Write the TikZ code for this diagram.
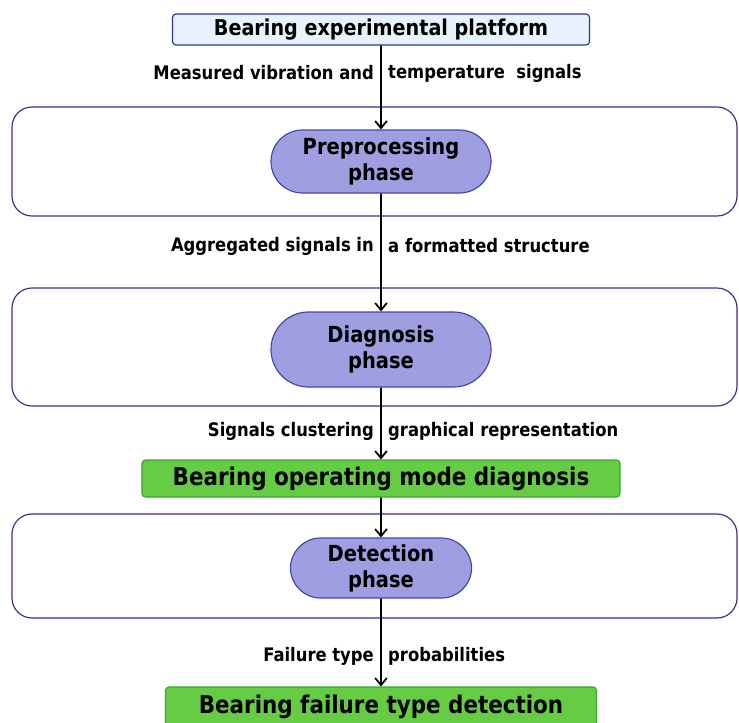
\documentclass[tikz,border=0pt]{standalone}
\usepackage{fontspec}
\setmainfont{DejaVu Sans}[FakeStretch=0.88]
\usetikzlibrary{arrows.meta}
\usetikzlibrary{shapes.misc}
\definecolor{frameblue}{RGB}{50,50,150}
\definecolor{topfill}{RGB}{232,242,252}
\definecolor{phasefill}{RGB}{158,158,224}
\definecolor{phaseline}{RGB}{70,70,170}
\definecolor{modegreen}{RGB}{102,204,68}
\definecolor{modeline}{RGB}{50,170,40}

\begin{document}
\begin{tikzpicture}[x=0.03cm, y=-0.03cm,
    phase/.style={rounded rectangle, draw=phaseline, fill=phasefill, line width=1pt,
      align=center, inner sep=0pt, font=\bfseries\fontsize{18.9}{22}\selectfont},
    stage/.style={draw=frameblue, line width=1pt, rounded corners=0.6cm},
    result/.style={draw=modeline, fill=modegreen, line width=1pt, rounded corners=3pt,
      inner sep=0pt, font=\bfseries\fontsize{20.8}{24}\selectfont},
    lbl/.style={inner sep=0pt, font=\bfseries\fontsize{15.9}{19}\selectfont},
    flow/.style={line width=1.5pt, -{Straight Barb[length=6pt,width=10pt,line width=1.5pt]}}]
  \useasboundingbox (0,0) rectangle (739,722);
  % platform
  \node[draw=frameblue, fill=topfill, line width=1pt, rounded corners=3pt, inner sep=0pt,
    minimum width=12.51cm, minimum height=0.93cm, font=\bfseries\fontsize{18.6}{22}\selectfont]
    (platform) at (381,29.5) {Bearing experimental platform};
  % preprocessing
  \draw[stage] (12,107) rectangle (737,216);
  \node[phase, minimum width=6.6cm, minimum height=1.89cm] (prep) at (381,161.5) {Preprocessing\\phase};
  % diagnosis
  \draw[stage] (12,288) rectangle (737,406);
  \node[phase, minimum width=6.6cm, minimum height=2.25cm] (diag) at (381,349.5) {Diagnosis\\phase};
  \node[result, minimum width=14.34cm, minimum height=1.11cm] (mode) at (381,478.5) {Bearing operating mode diagnosis};
  % detection
  \draw[stage] (12,514) rectangle (737,618);
  \node[phase, minimum width=5.43cm, minimum height=1.8cm] (detect) at (381,568) {Detection\\phase};
  \node[result, minimum width=12.93cm, minimum height=1.2cm] (failure) at (381,707) {Bearing failure type detection};
  % signal labels
  \node[lbl, anchor=east] (meas) at (374,73) {Measured vibration and};
  \node[lbl, anchor=west] (temp) at (388,73) {temperature~~signals};
  \node[lbl, anchor=east] (aggr) at (374,246) {Aggregated signals in};
  \node[lbl, anchor=west] (form) at (388,246) {a formatted structure};
  \node[lbl, anchor=east] (clus) at (374,431) {Signals clustering};
  \node[lbl, anchor=west] (graph) at (388,431) {graphical representation};
  \node[lbl, anchor=east] (ftype) at (374,656) {Failure type};
  \node[lbl, anchor=west] (prob) at (388,656) {probabilities};
  % flow
  \draw[flow] (platform) -- (prep);
  \draw[flow] (prep) -- (diag);
  \draw[flow] (diag) -- (mode);
  \draw[flow] (mode) -- (detect);
  \draw[flow] (detect) -- (failure);
\end{tikzpicture}
\end{document}
